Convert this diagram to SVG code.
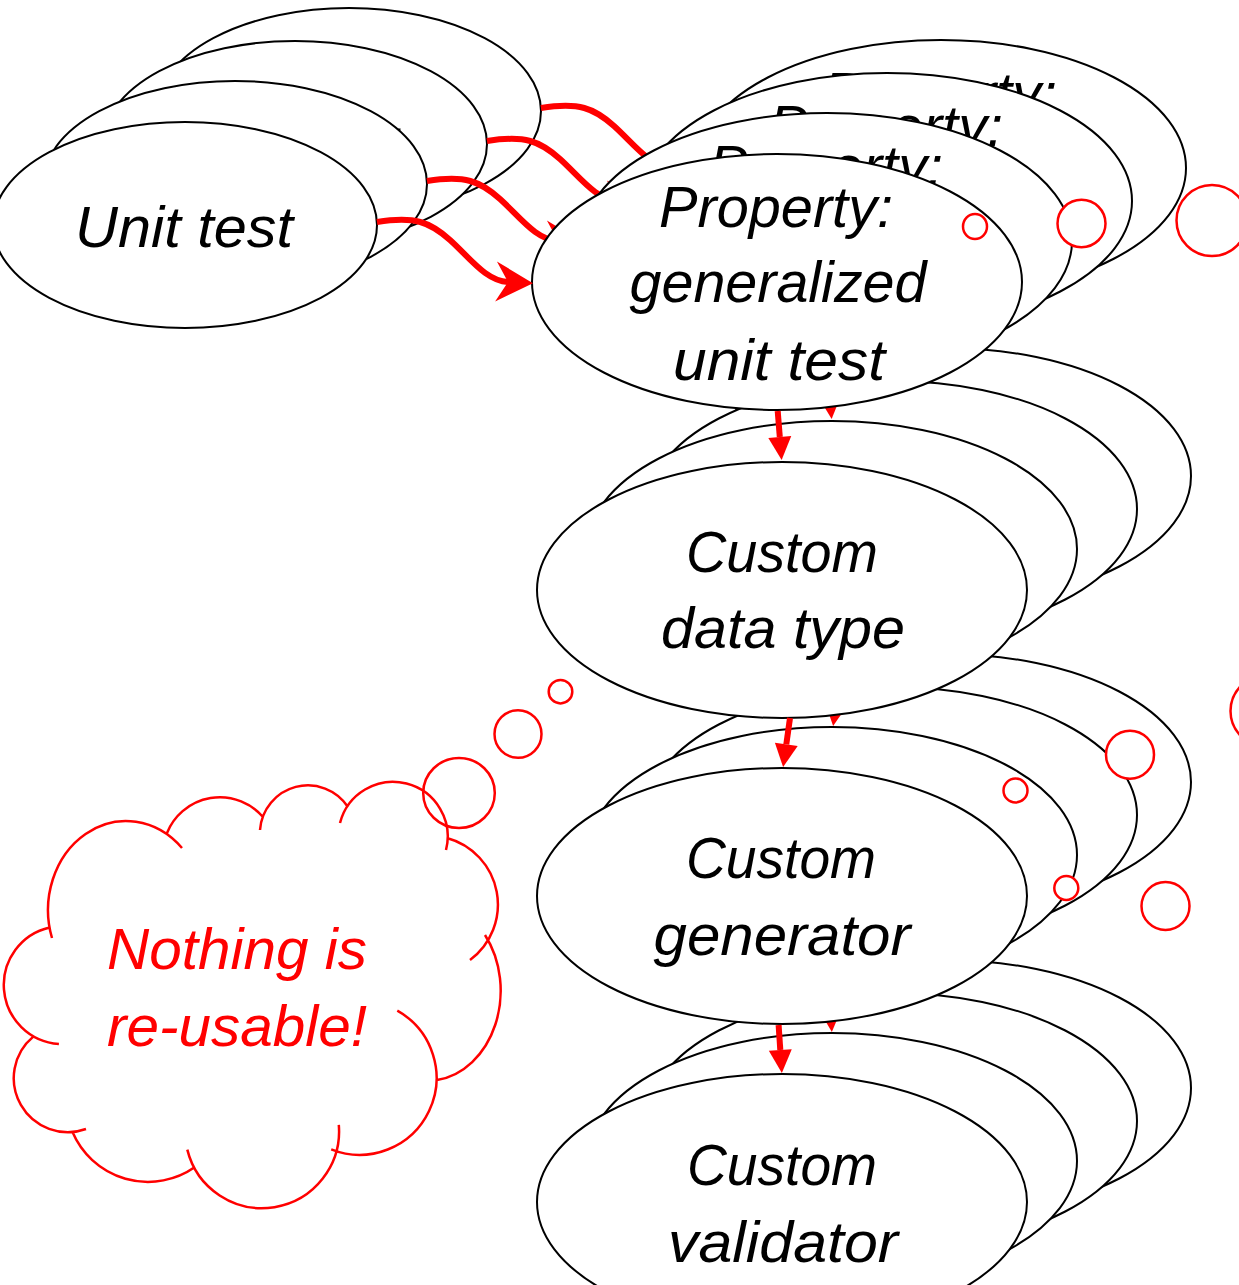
<svg xmlns="http://www.w3.org/2000/svg" xmlns:xlink="http://www.w3.org/1999/xlink" width="1239" height="1285" viewBox="0 0 1239 1285">
<style>
  .node ellipse { fill: #ffffff; stroke: #000000; stroke-width: 2; }
  .lbl { font-family: "Liberation Sans", Arial, sans-serif; font-style: italic; font-size: 58px; text-anchor: middle; fill: #000000; }
  .red { fill: #ff0000; }
  .arr { fill: none; stroke: #ff0000; stroke-width: 6; }
  .bub { fill: #ffffff; stroke: #ff0000; stroke-width: 2.5; }
  .cloud { fill: none; stroke: #ff0000; stroke-width: 2.5; }
</style>
<defs>
  <marker id="stealth" markerUnits="userSpaceOnUse" orient="auto" overflow="visible" markerWidth="1" markerHeight="1" refX="0" refY="0">
    <path d="M25,0 L-12,-20 L0,0 L-12,20 Z" fill="#ff0000"/>
  </marker>
  <marker id="tri" markerUnits="userSpaceOnUse" orient="auto" overflow="visible" markerWidth="1" markerHeight="1" refX="0" refY="0">
    <path d="M23,0 L0,-11.5 L0,11.5 Z" fill="#ff0000"/>
  </marker>
</defs>
<rect x="0" y="0" width="1239" height="1285" fill="#ffffff"/>

<!-- stacked back copies -->
<use xlink:href="#layer1" href="#layer1" transform="translate(164,-114)"/>
<use xlink:href="#layer1" href="#layer1" transform="translate(110,-81)"/>
<use xlink:href="#layer1" href="#layer1" transform="translate(50,-41)"/>

<g id="layer1">
  <g id="unit-test" class="node">
    <ellipse cx="185" cy="225" rx="192" ry="103"/>
    <text class="lbl" x="184" y="247" textLength="218" lengthAdjust="spacingAndGlyphs">Unit test</text>
  </g>
  <g id="property" class="node">
    <ellipse cx="777" cy="282" rx="245" ry="128"/>
    <text class="lbl" x="776" y="227" textLength="234" lengthAdjust="spacingAndGlyphs">Property:</text>
    <text class="lbl" x="778" y="302" textLength="297" lengthAdjust="spacingAndGlyphs">generalized</text>
    <text class="lbl" x="779" y="380" textLength="212" lengthAdjust="spacingAndGlyphs">unit test</text>
  </g>
  <g id="custom-data-type" class="node">
    <ellipse cx="782" cy="590" rx="245" ry="128"/>
    <text class="lbl" x="782" y="572" textLength="192" lengthAdjust="spacingAndGlyphs">Custom</text>
    <text class="lbl" x="783" y="648" textLength="244" lengthAdjust="spacingAndGlyphs">data type</text>
  </g>
  <g id="custom-generator" class="node">
    <ellipse cx="782" cy="896" rx="245" ry="128"/>
    <text class="lbl" x="781" y="878" textLength="190" lengthAdjust="spacingAndGlyphs">Custom</text>
    <text class="lbl" x="782" y="955" textLength="257" lengthAdjust="spacingAndGlyphs">generator</text>
  </g>
  <g id="custom-validator" class="node">
    <ellipse cx="782" cy="1202" rx="245" ry="128"/>
    <text class="lbl" x="782" y="1185" textLength="190" lengthAdjust="spacingAndGlyphs">Custom</text>
    <text class="lbl" x="783" y="1262" textLength="230" lengthAdjust="spacingAndGlyphs">validator</text>
  </g>
  <g id="connectors">
    <path class="arr" d="M377,222 C415,216 430,222 450,240 C470,258 486,281 508,282" marker-end="url(#stealth)"/>
    <path class="arr" d="M777.7,411 L779.8,437" marker-end="url(#tri)"/>
    <path class="arr" d="M790,718 L786.3,744.3" marker-end="url(#tri)"/>
    <path class="arr" d="M778.6,1025 L780.3,1050" marker-end="url(#tri)"/>
  </g>
</g>

<!-- thought bubbles of other clouds -->
<g id="bubbles-right">
  <ellipse class="bub" cx="975" cy="226.5" rx="12" ry="12.5"/>
  <ellipse class="bub" cx="1081.5" cy="223.5" rx="24" ry="23.7"/>
  <ellipse class="bub" cx="1212" cy="220.5" rx="35.5" ry="35.5"/>
  <ellipse class="bub" cx="1015.5" cy="790.5" rx="12" ry="12"/>
  <ellipse class="bub" cx="1130" cy="754.7" rx="24" ry="24"/>
  <ellipse class="bub" cx="1266" cy="711" rx="35.5" ry="35.5"/>
  <ellipse class="bub" cx="1066.3" cy="888" rx="12" ry="12"/>
  <ellipse class="bub" cx="1165.5" cy="906" rx="24" ry="24"/>
</g>

<g id="cloud">
  <ellipse class="bub" cx="560.5" cy="691.7" rx="11.8" ry="11.7"/>
  <ellipse class="bub" cx="518" cy="734" rx="23.5" ry="23.8"/>
  <ellipse class="bub" cx="459" cy="793" rx="35.8" ry="35"/>
  <path class="cloud" d="M52,938 A78,89 0 0 1 182,848
    M167,833 A57,57 0 0 1 263,817
    M260,830 A48,48 0 0 1 348,807
    M340,823 A54,54 0 0 1 446,850
    M447,838 A69,69 0 0 1 470,960
    M485,935 A73,90 0 0 1 437,1080
    M397.3,1010.7 A77,77 0 0 1 331.2,1149.4
    M338.8,1124.8 A77,77 0 0 1 187.3,1149.6
    M195,1167 A82,82 0 0 1 72.5,1132
    M86,1129 A54,54 0 0 1 33.3,1036.6
    M58.9,1043.9 A59,59 0 0 1 49.7,927.5"/>
  <text class="lbl red" x="237" y="969" textLength="260" lengthAdjust="spacingAndGlyphs">Nothing is</text>
  <text class="lbl red" x="237" y="1046" textLength="260" lengthAdjust="spacingAndGlyphs">re-usable!</text>
</g>
</svg>
